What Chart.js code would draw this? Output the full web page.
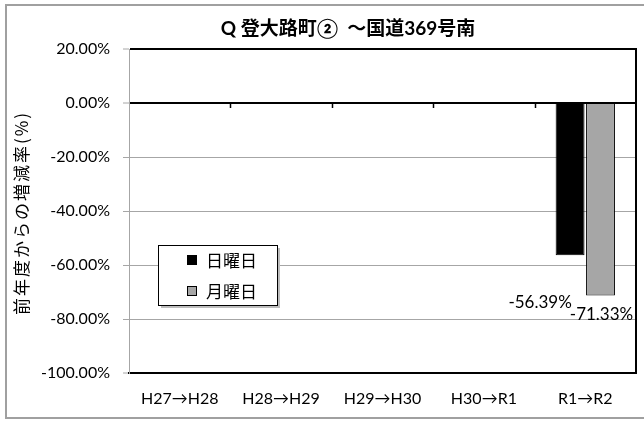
<!DOCTYPE html>
<html><head><meta charset="utf-8">
<script src="https://cdn.jsdelivr.net/npm/chart.js@4.4.0/dist/chart.umd.min.js"></script>
<style>html,body{margin:0;padding:0;background:#fff}#wrap{width:644px;height:423px}</style>
</head><body><div id="wrap"><canvas id="c" width="644" height="423"></canvas></div>
<script>
const chartTitle = 'Q 登大路町②  ～国道369号南';
const yAxisTitle = '前年度からの増減率(%)';
const categories = ['H27→H28', 'H28→H29', 'H29→H30', 'H30→R1', 'R1→R2'];
const seriesNames = ['日曜日', '月曜日'];
const sundayValues = [null, null, null, null, -56.39];
const mondayValues = [null, null, null, null, -71.33];
const yMin = -100, yMax = 20, yStep = 20;

const LATIN = "Lato, 'Noto Sans CJK JP', sans-serif";
const CJK = "'Noto Sans CJK JP', sans-serif";
const GRID = '#a6a6a6';

const decor = {
  id: 'decor',
  beforeDraw(chart) {
    const ctx = chart.ctx;
    ctx.save();
    ctx.fillStyle = '#fff';
    ctx.fillRect(0, 0, chart.width, chart.height);
    ctx.strokeStyle = '#a0a0a0';
    ctx.lineWidth = 2;
    ctx.strokeRect(6, 5, 650, 413);
    ctx.restore();
  },
  afterDatasetsDraw(chart) {
    const ctx = chart.ctx, a = chart.chartArea;
    const ys = chart.scales.y;
    ctx.save();
    ctx.strokeStyle = '#000'; ctx.lineWidth = 2;
    ctx.beginPath(); ctx.moveTo(a.right, a.top - 1); ctx.lineTo(a.right, a.bottom + 1); ctx.stroke();
    const y0 = ys.getPixelForValue(0);
    ctx.lineWidth = 1.5;
    const n = categories.length;
    for (let i = 1; i < n; i++) {
      const x = Math.round(a.left + (a.right - a.left) * i / n) + 0.5;
      ctx.beginPath(); ctx.moveTo(x, y0); ctx.lineTo(x, y0 + 5); ctx.stroke();
    }
    ctx.fillStyle = '#000';
    ctx.font = '17px ' + LATIN;
    ctx.textAlign = 'center'; ctx.textBaseline = 'middle';
    chart.data.datasets.forEach((ds, di) => {
      const meta = chart.getDatasetMeta(di);
      meta.data.forEach((bar, i) => {
        const v = ds.data[i];
        if (v === null || v === undefined) return;
        const off = ds.labelOffset || {x: 0, y: 0};
        ctx.fillText(v.toFixed(2) + '%', bar.x + off.x, bar.y + off.y);
      });
    });
    ctx.restore();
  },
  afterDraw(chart) {
    const ctx = chart.ctx;
    ctx.save();
    ctx.fillStyle = '#000';
    ctx.font = 'bold 19px ' + LATIN;
    ctx.textAlign = 'center'; ctx.textBaseline = 'middle';
    ctx.fillText(chartTitle, 348, 29);
    ctx.save();
    ctx.translate(22, 213);
    ctx.rotate(-Math.PI / 2);
    ctx.font = '17px ' + CJK;
    ctx.letterSpacing = '2px';
    ctx.textAlign = 'center'; ctx.textBaseline = 'middle';
    ctx.fillText(yAxisTitle, 0, 0);
    ctx.restore();
    const bx = 158, by = 245, bw = 119, bh = 60;
    ctx.fillStyle = '#bdbdbd';
    ctx.fillRect(bx + 3, by + 3, bw, bh);
    ctx.fillStyle = '#fff';
    ctx.fillRect(bx, by, bw, bh);
    ctx.strokeStyle = '#000'; ctx.lineWidth = 1;
    ctx.strokeRect(bx + 0.5, by + 0.5, bw, bh);
    chart.data.datasets.forEach((ds, i) => {
      const cy = 260 + i * 31;
      ctx.fillStyle = ds.backgroundColor;
      ctx.fillRect(187, cy - 5, 10, 10);
      ctx.strokeStyle = '#000';
      ctx.strokeRect(187.5, cy - 4.5, 9, 9);
      ctx.fillStyle = '#000';
      ctx.font = '17px ' + CJK;
      ctx.textAlign = 'left'; ctx.textBaseline = 'middle';
      ctx.fillText(ds.label, 206, cy + 1);
    });
    ctx.restore();
  }
};

new Chart(document.getElementById('c'), {
  type: 'bar',
  data: {
    labels: categories,
    datasets: [
      { label: seriesNames[0], data: sundayValues, backgroundColor: '#000000', borderColor: '#000', borderWidth: 1,
        labelOffset: {x: -30, y: 47} },
      { label: seriesNames[1], data: mondayValues, backgroundColor: '#a6a6a6', borderColor: '#000', borderWidth: 1,
        labelOffset: {x: 1, y: 19} }
    ]
  },
  options: {
    responsive: false,
    animation: false,
    devicePixelRatio: 1,
    layout: { padding: { top: 49, right: 8, left: 0, bottom: 0 } },
    plugins: { legend: { display: false }, title: { display: false }, tooltip: { enabled: false } },
    datasets: { bar: { categoryPercentage: 0.6, barPercentage: 0.95, skipNull: false } },
    scales: {
      x: {
        grid: { display: false, drawTicks: false },
        border: { display: true, color: '#000', width: 2 },
        ticks: { color: '#000', font: { family: LATIN, size: 16 }, padding: 16, maxRotation: 0 },
        afterFit(s) { s.height = 50; }
      },
      y: {
        min: yMin, max: yMax,
        ticks: { stepSize: yStep, color: '#000', font: { family: LATIN, size: 16 }, padding: 13,
          callback: v => v.toFixed(2) + '%' },
        grid: {
          color: c => (c.tick.value === 0 || c.tick.value === yMax || c.tick.value === yMin) ? '#000' : GRID,
          lineWidth: c => (c.tick.value === 0 || c.tick.value === yMax || c.tick.value === yMin) ? 2 : 1,
          tickColor: GRID, tickLength: 6, tickWidth: 1
        },
        border: { color: GRID, width: 1 },
        title: { display: false },
        afterFit(s) { s.width = 129; }
      }
    }
  },
  plugins: [decor]
});
</script></body></html>
